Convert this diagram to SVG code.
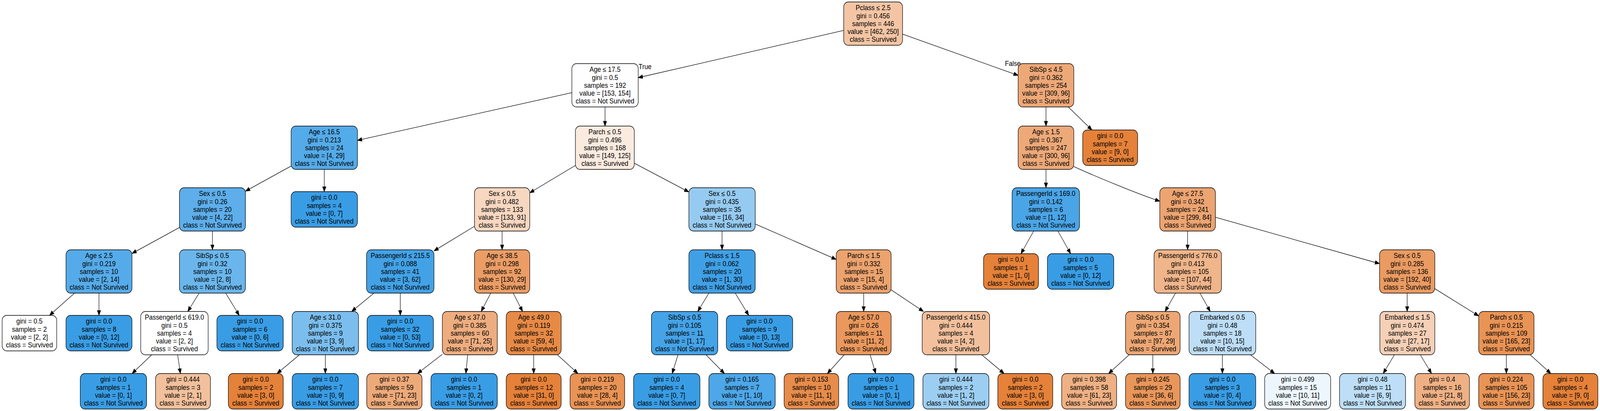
<svg xmlns="http://www.w3.org/2000/svg" width="4485" height="1053" viewBox="0 0 4485 1053" preserveAspectRatio="none">
<style>
svg:root{width:100vw;height:100vh;display:block}
.nd rect{stroke:#000;stroke-width:1.3}
text{font-family:"Liberation Sans",Arial,Helvetica,sans-serif;font-size:18px;fill:#000}
.nd text{text-anchor:middle}
.ed line,.ed path{stroke:#000;stroke-width:1.3;fill:none;marker-end:url(#ah)}
</style>
<defs>
<marker id="ah" markerUnits="userSpaceOnUse" markerWidth="14" markerHeight="11" refX="13" refY="5" orient="auto">
<path d="M0,0 L13,5 L0,10 z" fill="#000" stroke="#000" stroke-width="1"/>
</marker>
</defs>
<rect width="4485" height="1053" fill="#fff"/>
<g id="edges" class="ed">
<line x1="2365" y1="77.9" x2="1789" y2="199"/>
<line x1="2530" y1="87.4" x2="2854" y2="193.1"/>
<line x1="1603" y1="237.4" x2="1002" y2="359.6"/>
<line x1="1696" y1="274" x2="1696" y2="323"/>
<line x1="2932" y1="274" x2="2932" y2="323"/>
<line x1="2994.4" y1="274" x2="3060.8" y2="333"/>
<line x1="816" y1="425.4" x2="688" y2="489.9"/>
<line x1="909" y1="434" x2="909" y2="491"/>
<line x1="1613" y1="423.8" x2="1485" y2="494"/>
<line x1="1778" y1="418.2" x2="1931" y2="491.8"/>
<line x1="2932" y1="434" x2="2932" y2="481"/>
<path d="M3010,426.6 C3070,452 3190,497 3251,515.5"/>
<line x1="503" y1="582.8" x2="370" y2="649.3"/>
<line x1="595.5" y1="592" x2="595.5" y2="640"/>
<line x1="1330" y1="579.7" x2="1216.5" y2="642.9"/>
<line x1="1407.5" y1="592" x2="1407.5" y2="640"/>
<line x1="2024" y1="592" x2="2024" y2="640"/>
<line x1="2117" y1="573.8" x2="2344" y2="664.7"/>
<line x1="2897.5" y1="592" x2="2861.9" y2="650"/>
<line x1="2965.5" y1="592" x2="3001.1" y2="650"/>
<line x1="3329" y1="592" x2="3329" y2="640"/>
<line x1="3407" y1="556.7" x2="3867" y2="675.5"/>
<line x1="209" y1="751" x2="138.7" y2="808"/>
<line x1="277.5" y1="751" x2="277.5" y2="808"/>
<line x1="558.1" y1="751" x2="526.4" y2="798"/>
<line x1="632.6" y1="751" x2="670.6" y2="808"/>
<line x1="1048.2" y1="751" x2="985.8" y2="798"/>
<line x1="1122" y1="751" x2="1122" y2="808"/>
<line x1="1375.7" y1="751" x2="1348.8" y2="798"/>
<line x1="1438.6" y1="751" x2="1464.9" y2="798"/>
<line x1="1987.1" y1="751" x2="1955.9" y2="798"/>
<line x1="2060.9" y1="751" x2="2098.8" y2="808"/>
<line x1="2421" y1="751" x2="2421" y2="798"/>
<line x1="2498" y1="742.6" x2="2588.7" y2="798"/>
<line x1="3295.1" y1="751" x2="3265.9" y2="798"/>
<line x1="3363.6" y1="751" x2="3392.4" y2="798"/>
<line x1="3944.5" y1="751" x2="3944.5" y2="798"/>
<line x1="4022" y1="739.6" x2="4145" y2="809.5"/>
<line x1="425.3" y1="909" x2="370.2" y2="957"/>
<line x1="497.9" y1="909" x2="505.7" y2="957"/>
<line x1="839.4" y1="909" x2="776.6" y2="957"/>
<line x1="912" y1="909" x2="912" y2="957"/>
<line x1="1240" y1="907.8" x2="1170.1" y2="957"/>
<line x1="1311" y1="909" x2="1305.9" y2="957"/>
<line x1="1496" y1="909" x2="1496" y2="957"/>
<line x1="1562.5" y1="909" x2="1620" y2="957"/>
<line x1="1900.4" y1="909" x2="1884.3" y2="957"/>
<line x1="1979" y1="909" x2="2030.8" y2="957"/>
<line x1="2366.4" y1="909" x2="2319.2" y2="957"/>
<line x1="2439.1" y1="909" x2="2454.7" y2="957"/>
<line x1="2679.5" y1="909" x2="2679.5" y2="957"/>
<line x1="2752" y1="909" x2="2814.6" y2="957"/>
<line x1="3165" y1="909" x2="3107.5" y2="957"/>
<line x1="3231.5" y1="909" x2="3231.5" y2="957"/>
<line x1="3426.5" y1="909" x2="3426.5" y2="957"/>
<line x1="3505.1" y1="909" x2="3573.1" y2="957"/>
<line x1="3908.7" y1="909" x2="3877.3" y2="957"/>
<line x1="3981.3" y1="909" x2="4012.7" y2="957"/>
<line x1="4222.5" y1="909" x2="4222.5" y2="957"/>
<line x1="4289.4" y1="909" x2="4347.2" y2="957"/>
<text x="1790" y="177">True</text>
<text x="2817" y="169">False</text>
</g>
<g id="n0" class="nd"><rect x="2365" y="5" width="165" height="111" rx="13" fill="#f3c5a4"/><text y="26.4"><tspan x="2447.5">Pclass ≤ 2.5</tspan><tspan x="2447.5" dy="20.2">gini = 0.456</tspan><tspan x="2447.5" dy="20.2">samples = 446</tspan><tspan x="2447.5" dy="20.2">value = [462, 250]</tspan><tspan x="2447.5" dy="20.2">class = Survived</tspan></text></g>
<g id="n1" class="nd"><rect x="1603" y="163" width="186" height="111" rx="13" fill="#fefeff"/><text y="184.4"><tspan x="1696">Age ≤ 17.5</tspan><tspan x="1696" dy="20.2">gini = 0.5</tspan><tspan x="1696" dy="20.2">samples = 192</tspan><tspan x="1696" dy="20.2">value = [153, 154]</tspan><tspan x="1696" dy="20.2">class = Not Survived</tspan></text></g>
<g id="n2" class="nd"><rect x="2854" y="163" width="156" height="111" rx="13" fill="#eda877"/><text y="184.4"><tspan x="2932">SibSp ≤ 4.5</tspan><tspan x="2932" dy="20.2">gini = 0.362</tspan><tspan x="2932" dy="20.2">samples = 254</tspan><tspan x="2932" dy="20.2">value = [309, 96]</tspan><tspan x="2932" dy="20.2">class = Survived</tspan></text></g>
<g id="n3" class="nd"><rect x="816" y="323" width="186" height="111" rx="13" fill="#54abe9"/><text y="344.4"><tspan x="909">Age ≤ 16.5</tspan><tspan x="909" dy="20.2">gini = 0.213</tspan><tspan x="909" dy="20.2">samples = 24</tspan><tspan x="909" dy="20.2">value = [4, 29]</tspan><tspan x="909" dy="20.2">class = Not Survived</tspan></text></g>
<g id="n4" class="nd"><rect x="1613" y="323" width="165" height="111" rx="13" fill="#fbebdf"/><text y="344.4"><tspan x="1695.5">Parch ≤ 0.5</tspan><tspan x="1695.5" dy="20.2">gini = 0.496</tspan><tspan x="1695.5" dy="20.2">samples = 168</tspan><tspan x="1695.5" dy="20.2">value = [149, 125]</tspan><tspan x="1695.5" dy="20.2">class = Survived</tspan></text></g>
<g id="n5" class="nd"><rect x="2854" y="323" width="156" height="111" rx="13" fill="#eda978"/><text y="344.4"><tspan x="2932">Age ≤ 1.5</tspan><tspan x="2932" dy="20.2">gini = 0.367</tspan><tspan x="2932" dy="20.2">samples = 247</tspan><tspan x="2932" dy="20.2">value = [300, 96]</tspan><tspan x="2932" dy="20.2">class = Survived</tspan></text></g>
<g id="n6" class="nd"><rect x="3035" y="333" width="154" height="91" rx="13" fill="#e58139"/><text y="354.5"><tspan x="3112">gini = 0.0</tspan><tspan x="3112" dy="20.2">samples = 7</tspan><tspan x="3112" dy="20.2">value = [9, 0]</tspan><tspan x="3112" dy="20.2">class = Survived</tspan></text></g>
<g id="n7" class="nd"><rect x="503" y="481" width="185" height="111" rx="13" fill="#5daeea"/><text y="502.4"><tspan x="595.5">Sex ≤ 0.5</tspan><tspan x="595.5" dy="20.2">gini = 0.26</tspan><tspan x="595.5" dy="20.2">samples = 20</tspan><tspan x="595.5" dy="20.2">value = [4, 22]</tspan><tspan x="595.5" dy="20.2">class = Not Survived</tspan></text></g>
<g id="n8" class="nd"><rect x="816" y="491" width="186" height="91" rx="13" fill="#399de5"/><text y="512.5"><tspan x="909">gini = 0.0</tspan><tspan x="909" dy="20.2">samples = 4</tspan><tspan x="909" dy="20.2">value = [0, 7]</tspan><tspan x="909" dy="20.2">class = Not Survived</tspan></text></g>
<g id="n9" class="nd"><rect x="1330" y="481" width="155" height="111" rx="13" fill="#f7d7c0"/><text y="502.4"><tspan x="1407.5">Sex ≤ 0.5</tspan><tspan x="1407.5" dy="20.2">gini = 0.482</tspan><tspan x="1407.5" dy="20.2">samples = 133</tspan><tspan x="1407.5" dy="20.2">value = [133, 91]</tspan><tspan x="1407.5" dy="20.2">class = Survived</tspan></text></g>
<g id="n10" class="nd"><rect x="1931" y="481" width="186" height="111" rx="13" fill="#96cbf1"/><text y="502.4"><tspan x="2024">Sex ≤ 0.5</tspan><tspan x="2024" dy="20.2">gini = 0.435</tspan><tspan x="2024" dy="20.2">samples = 35</tspan><tspan x="2024" dy="20.2">value = [16, 34]</tspan><tspan x="2024" dy="20.2">class = Not Survived</tspan></text></g>
<g id="n11" class="nd"><rect x="2837" y="481" width="189" height="111" rx="13" fill="#4aa5e7"/><text y="502.4"><tspan x="2931.5">PassengerId ≤ 169.0</tspan><tspan x="2931.5" dy="20.2">gini = 0.142</tspan><tspan x="2931.5" dy="20.2">samples = 6</tspan><tspan x="2931.5" dy="20.2">value = [1, 12]</tspan><tspan x="2931.5" dy="20.2">class = Not Survived</tspan></text></g>
<g id="n12" class="nd"><rect x="3251" y="481" width="156" height="111" rx="13" fill="#eca471"/><text y="502.4"><tspan x="3329">Age ≤ 27.5</tspan><tspan x="3329" dy="20.2">gini = 0.342</tspan><tspan x="3329" dy="20.2">samples = 241</tspan><tspan x="3329" dy="20.2">value = [299, 84]</tspan><tspan x="3329" dy="20.2">class = Survived</tspan></text></g>
<g id="n13" class="nd"><rect x="185" y="640" width="185" height="111" rx="13" fill="#55abe9"/><text y="661.4"><tspan x="277.5">Age ≤ 2.5</tspan><tspan x="277.5" dy="20.2">gini = 0.219</tspan><tspan x="277.5" dy="20.2">samples = 10</tspan><tspan x="277.5" dy="20.2">value = [2, 14]</tspan><tspan x="277.5" dy="20.2">class = Not Survived</tspan></text></g>
<g id="n14" class="nd"><rect x="503" y="640" width="185" height="111" rx="13" fill="#6ab6ec"/><text y="661.4"><tspan x="595.5">SibSp ≤ 0.5</tspan><tspan x="595.5" dy="20.2">gini = 0.32</tspan><tspan x="595.5" dy="20.2">samples = 10</tspan><tspan x="595.5" dy="20.2">value = [2, 8]</tspan><tspan x="595.5" dy="20.2">class = Not Survived</tspan></text></g>
<g id="n15" class="nd"><rect x="1027.5" y="640" width="189" height="111" rx="13" fill="#43a2e6"/><text y="661.4"><tspan x="1122">PassengerId ≤ 215.5</tspan><tspan x="1122" dy="20.2">gini = 0.088</tspan><tspan x="1122" dy="20.2">samples = 41</tspan><tspan x="1122" dy="20.2">value = [3, 62]</tspan><tspan x="1122" dy="20.2">class = Not Survived</tspan></text></g>
<g id="n16" class="nd"><rect x="1330" y="640" width="155" height="111" rx="13" fill="#eb9d65"/><text y="661.4"><tspan x="1407.5">Age ≤ 38.5</tspan><tspan x="1407.5" dy="20.2">gini = 0.298</tspan><tspan x="1407.5" dy="20.2">samples = 92</tspan><tspan x="1407.5" dy="20.2">value = [130, 29]</tspan><tspan x="1407.5" dy="20.2">class = Survived</tspan></text></g>
<g id="n17" class="nd"><rect x="1931" y="640" width="186" height="111" rx="13" fill="#40a0e6"/><text y="661.4"><tspan x="2024">Pclass ≤ 1.5</tspan><tspan x="2024" dy="20.2">gini = 0.062</tspan><tspan x="2024" dy="20.2">samples = 20</tspan><tspan x="2024" dy="20.2">value = [1, 30]</tspan><tspan x="2024" dy="20.2">class = Not Survived</tspan></text></g>
<g id="n18" class="nd"><rect x="2344" y="640" width="154" height="111" rx="13" fill="#eca36e"/><text y="661.4"><tspan x="2421">Parch ≤ 1.5</tspan><tspan x="2421" dy="20.2">gini = 0.332</tspan><tspan x="2421" dy="20.2">samples = 15</tspan><tspan x="2421" dy="20.2">value = [15, 4]</tspan><tspan x="2421" dy="20.2">class = Survived</tspan></text></g>
<g id="n19" class="nd"><rect x="2757" y="650" width="154" height="91" rx="13" fill="#e58139"/><text y="671.5"><tspan x="2834">gini = 0.0</tspan><tspan x="2834" dy="20.2">samples = 1</tspan><tspan x="2834" dy="20.2">value = [1, 0]</tspan><tspan x="2834" dy="20.2">class = Survived</tspan></text></g>
<g id="n20" class="nd"><rect x="2936" y="650" width="186" height="91" rx="13" fill="#399de5"/><text y="671.5"><tspan x="3029">gini = 0.0</tspan><tspan x="3029" dy="20.2">samples = 5</tspan><tspan x="3029" dy="20.2">value = [0, 12]</tspan><tspan x="3029" dy="20.2">class = Not Survived</tspan></text></g>
<g id="n21" class="nd"><rect x="3235" y="640" width="189" height="111" rx="13" fill="#f0b58a"/><text y="661.4"><tspan x="3329.5">PassengerId ≤ 776.0</tspan><tspan x="3329.5" dy="20.2">gini = 0.413</tspan><tspan x="3329.5" dy="20.2">samples = 105</tspan><tspan x="3329.5" dy="20.2">value = [107, 44]</tspan><tspan x="3329.5" dy="20.2">class = Survived</tspan></text></g>
<g id="n22" class="nd"><rect x="3867" y="640" width="155" height="111" rx="13" fill="#ea9b62"/><text y="661.4"><tspan x="3944.5">Sex ≤ 0.5</tspan><tspan x="3944.5" dy="20.2">gini = 0.285</tspan><tspan x="3944.5" dy="20.2">samples = 136</tspan><tspan x="3944.5" dy="20.2">value = [192, 40]</tspan><tspan x="3944.5" dy="20.2">class = Survived</tspan></text></g>
<g id="n23" class="nd"><rect x="6" y="808" width="153" height="91" rx="13" fill="#ffffff"/><text y="829.5"><tspan x="82.5">gini = 0.5</tspan><tspan x="82.5" dy="20.2">samples = 2</tspan><tspan x="82.5" dy="20.2">value = [2, 2]</tspan><tspan x="82.5" dy="20.2">class = Survived</tspan></text></g>
<g id="n24" class="nd"><rect x="185" y="808" width="185" height="91" rx="13" fill="#399de5"/><text y="829.5"><tspan x="277.5">gini = 0.0</tspan><tspan x="277.5" dy="20.2">samples = 8</tspan><tspan x="277.5" dy="20.2">value = [0, 12]</tspan><tspan x="277.5" dy="20.2">class = Not Survived</tspan></text></g>
<g id="n25" class="nd"><rect x="394.5" y="798" width="189" height="111" rx="13" fill="#ffffff"/><text y="819.4"><tspan x="489">PassengerId ≤ 619.0</tspan><tspan x="489" dy="20.2">gini = 0.5</tspan><tspan x="489" dy="20.2">samples = 4</tspan><tspan x="489" dy="20.2">value = [2, 2]</tspan><tspan x="489" dy="20.2">class = Survived</tspan></text></g>
<g id="n26" class="nd"><rect x="608" y="808" width="186" height="91" rx="13" fill="#399de5"/><text y="829.5"><tspan x="701">gini = 0.0</tspan><tspan x="701" dy="20.2">samples = 6</tspan><tspan x="701" dy="20.2">value = [0, 6]</tspan><tspan x="701" dy="20.2">class = Not Survived</tspan></text></g>
<g id="n27" class="nd"><rect x="819" y="798" width="186" height="111" rx="13" fill="#7bbeee"/><text y="819.4"><tspan x="912">Age ≤ 31.0</tspan><tspan x="912" dy="20.2">gini = 0.375</tspan><tspan x="912" dy="20.2">samples = 9</tspan><tspan x="912" dy="20.2">value = [3, 9]</tspan><tspan x="912" dy="20.2">class = Not Survived</tspan></text></g>
<g id="n28" class="nd"><rect x="1029" y="808" width="186" height="91" rx="13" fill="#399de5"/><text y="829.5"><tspan x="1122">gini = 0.0</tspan><tspan x="1122" dy="20.2">samples = 32</tspan><tspan x="1122" dy="20.2">value = [0, 53]</tspan><tspan x="1122" dy="20.2">class = Not Survived</tspan></text></g>
<g id="n29" class="nd"><rect x="1240" y="798" width="154" height="111" rx="13" fill="#eead7f"/><text y="819.4"><tspan x="1317">Age ≤ 37.0</tspan><tspan x="1317" dy="20.2">gini = 0.385</tspan><tspan x="1317" dy="20.2">samples = 60</tspan><tspan x="1317" dy="20.2">value = [71, 25]</tspan><tspan x="1317" dy="20.2">class = Survived</tspan></text></g>
<g id="n30" class="nd"><rect x="1419" y="798" width="154" height="111" rx="13" fill="#e78a46"/><text y="819.4"><tspan x="1496">Age ≤ 49.0</tspan><tspan x="1496" dy="20.2">gini = 0.119</tspan><tspan x="1496" dy="20.2">samples = 32</tspan><tspan x="1496" dy="20.2">value = [59, 4]</tspan><tspan x="1496" dy="20.2">class = Survived</tspan></text></g>
<g id="n31" class="nd"><rect x="1826" y="798" width="186" height="111" rx="13" fill="#45a3e7"/><text y="819.4"><tspan x="1919">SibSp ≤ 0.5</tspan><tspan x="1919" dy="20.2">gini = 0.105</tspan><tspan x="1919" dy="20.2">samples = 11</tspan><tspan x="1919" dy="20.2">value = [1, 17]</tspan><tspan x="1919" dy="20.2">class = Not Survived</tspan></text></g>
<g id="n32" class="nd"><rect x="2036" y="808" width="186" height="91" rx="13" fill="#399de5"/><text y="829.5"><tspan x="2129">gini = 0.0</tspan><tspan x="2129" dy="20.2">samples = 9</tspan><tspan x="2129" dy="20.2">value = [0, 13]</tspan><tspan x="2129" dy="20.2">class = Not Survived</tspan></text></g>
<g id="n33" class="nd"><rect x="2344" y="798" width="154" height="111" rx="13" fill="#ea985d"/><text y="819.4"><tspan x="2421">Age ≤ 57.0</tspan><tspan x="2421" dy="20.2">gini = 0.26</tspan><tspan x="2421" dy="20.2">samples = 11</tspan><tspan x="2421" dy="20.2">value = [11, 2]</tspan><tspan x="2421" dy="20.2">class = Survived</tspan></text></g>
<g id="n34" class="nd"><rect x="2585" y="798" width="189" height="111" rx="13" fill="#f2c09c"/><text y="819.4"><tspan x="2679.5">PassengerId ≤ 415.0</tspan><tspan x="2679.5" dy="20.2">gini = 0.444</tspan><tspan x="2679.5" dy="20.2">samples = 4</tspan><tspan x="2679.5" dy="20.2">value = [4, 2]</tspan><tspan x="2679.5" dy="20.2">class = Survived</tspan></text></g>
<g id="n35" class="nd"><rect x="3155" y="798" width="153" height="111" rx="13" fill="#eda774"/><text y="819.4"><tspan x="3231.5">SibSp ≤ 0.5</tspan><tspan x="3231.5" dy="20.2">gini = 0.354</tspan><tspan x="3231.5" dy="20.2">samples = 87</tspan><tspan x="3231.5" dy="20.2">value = [97, 29]</tspan><tspan x="3231.5" dy="20.2">class = Survived</tspan></text></g>
<g id="n36" class="nd"><rect x="3333" y="798" width="187" height="111" rx="13" fill="#bddef6"/><text y="819.4"><tspan x="3426.5">Embarked ≤ 0.5</tspan><tspan x="3426.5" dy="20.2">gini = 0.48</tspan><tspan x="3426.5" dy="20.2">samples = 18</tspan><tspan x="3426.5" dy="20.2">value = [10, 15]</tspan><tspan x="3426.5" dy="20.2">class = Not Survived</tspan></text></g>
<g id="n37" class="nd"><rect x="3868" y="798" width="154" height="111" rx="13" fill="#f5d0b6"/><text y="819.4"><tspan x="3945">Embarked ≤ 1.5</tspan><tspan x="3945" dy="20.2">gini = 0.474</tspan><tspan x="3945" dy="20.2">samples = 27</tspan><tspan x="3945" dy="20.2">value = [27, 17]</tspan><tspan x="3945" dy="20.2">class = Survived</tspan></text></g>
<g id="n38" class="nd"><rect x="4145" y="798" width="155" height="111" rx="13" fill="#e99355"/><text y="819.4"><tspan x="4222.5">Parch ≤ 0.5</tspan><tspan x="4222.5" dy="20.2">gini = 0.215</tspan><tspan x="4222.5" dy="20.2">samples = 109</tspan><tspan x="4222.5" dy="20.2">value = [165, 23]</tspan><tspan x="4222.5" dy="20.2">class = Survived</tspan></text></g>
<g id="n39" class="nd"><rect x="225" y="957" width="186" height="91" rx="13" fill="#399de5"/><text y="978.5"><tspan x="318">gini = 0.0</tspan><tspan x="318" dy="20.2">samples = 1</tspan><tspan x="318" dy="20.2">value = [0, 1]</tspan><tspan x="318" dy="20.2">class = Not Survived</tspan></text></g>
<g id="n40" class="nd"><rect x="436" y="957" width="154" height="91" rx="13" fill="#f2c09c"/><text y="978.5"><tspan x="513">gini = 0.444</tspan><tspan x="513" dy="20.2">samples = 3</tspan><tspan x="513" dy="20.2">value = [2, 1]</tspan><tspan x="513" dy="20.2">class = Survived</tspan></text></g>
<g id="n41" class="nd"><rect x="640" y="957" width="154" height="91" rx="13" fill="#e58139"/><text y="978.5"><tspan x="717">gini = 0.0</tspan><tspan x="717" dy="20.2">samples = 2</tspan><tspan x="717" dy="20.2">value = [3, 0]</tspan><tspan x="717" dy="20.2">class = Survived</tspan></text></g>
<g id="n42" class="nd"><rect x="819" y="957" width="186" height="91" rx="13" fill="#399de5"/><text y="978.5"><tspan x="912">gini = 0.0</tspan><tspan x="912" dy="20.2">samples = 7</tspan><tspan x="912" dy="20.2">value = [0, 9]</tspan><tspan x="912" dy="20.2">class = Not Survived</tspan></text></g>
<g id="n43" class="nd"><rect x="1028" y="957" width="155" height="91" rx="13" fill="#edaa79"/><text y="978.5"><tspan x="1105.5">gini = 0.37</tspan><tspan x="1105.5" dy="20.2">samples = 59</tspan><tspan x="1105.5" dy="20.2">value = [71, 23]</tspan><tspan x="1105.5" dy="20.2">class = Survived</tspan></text></g>
<g id="n44" class="nd"><rect x="1208" y="957" width="186" height="91" rx="13" fill="#399de5"/><text y="978.5"><tspan x="1301">gini = 0.0</tspan><tspan x="1301" dy="20.2">samples = 1</tspan><tspan x="1301" dy="20.2">value = [0, 2]</tspan><tspan x="1301" dy="20.2">class = Not Survived</tspan></text></g>
<g id="n45" class="nd"><rect x="1419" y="957" width="154" height="91" rx="13" fill="#e58139"/><text y="978.5"><tspan x="1496">gini = 0.0</tspan><tspan x="1496" dy="20.2">samples = 12</tspan><tspan x="1496" dy="20.2">value = [31, 0]</tspan><tspan x="1496" dy="20.2">class = Survived</tspan></text></g>
<g id="n46" class="nd"><rect x="1598" y="957" width="153" height="91" rx="13" fill="#e99355"/><text y="978.5"><tspan x="1674.5">gini = 0.219</tspan><tspan x="1674.5" dy="20.2">samples = 20</tspan><tspan x="1674.5" dy="20.2">value = [28, 4]</tspan><tspan x="1674.5" dy="20.2">class = Survived</tspan></text></g>
<g id="n47" class="nd"><rect x="1776" y="957" width="186" height="91" rx="13" fill="#399de5"/><text y="978.5"><tspan x="1869">gini = 0.0</tspan><tspan x="1869" dy="20.2">samples = 4</tspan><tspan x="1869" dy="20.2">value = [0, 7]</tspan><tspan x="1869" dy="20.2">class = Not Survived</tspan></text></g>
<g id="n48" class="nd"><rect x="1987" y="957" width="186" height="91" rx="13" fill="#4da7e8"/><text y="978.5"><tspan x="2080">gini = 0.165</tspan><tspan x="2080" dy="20.2">samples = 7</tspan><tspan x="2080" dy="20.2">value = [1, 10]</tspan><tspan x="2080" dy="20.2">class = Not Survived</tspan></text></g>
<g id="n49" class="nd"><rect x="2198" y="957" width="153" height="91" rx="13" fill="#e78c4b"/><text y="978.5"><tspan x="2274.5">gini = 0.153</tspan><tspan x="2274.5" dy="20.2">samples = 10</tspan><tspan x="2274.5" dy="20.2">value = [11, 1]</tspan><tspan x="2274.5" dy="20.2">class = Survived</tspan></text></g>
<g id="n50" class="nd"><rect x="2377" y="957" width="185" height="91" rx="13" fill="#399de5"/><text y="978.5"><tspan x="2469.5">gini = 0.0</tspan><tspan x="2469.5" dy="20.2">samples = 1</tspan><tspan x="2469.5" dy="20.2">value = [0, 1]</tspan><tspan x="2469.5" dy="20.2">class = Not Survived</tspan></text></g>
<g id="n51" class="nd"><rect x="2587" y="957" width="185" height="91" rx="13" fill="#9ccef2"/><text y="978.5"><tspan x="2679.5">gini = 0.444</tspan><tspan x="2679.5" dy="20.2">samples = 2</tspan><tspan x="2679.5" dy="20.2">value = [1, 2]</tspan><tspan x="2679.5" dy="20.2">class = Not Survived</tspan></text></g>
<g id="n52" class="nd"><rect x="2797" y="957" width="154" height="91" rx="13" fill="#e58139"/><text y="978.5"><tspan x="2874">gini = 0.0</tspan><tspan x="2874" dy="20.2">samples = 2</tspan><tspan x="2874" dy="20.2">value = [3, 0]</tspan><tspan x="2874" dy="20.2">class = Survived</tspan></text></g>
<g id="n53" class="nd"><rect x="2976" y="957" width="154" height="91" rx="13" fill="#efb184"/><text y="978.5"><tspan x="3053">gini = 0.398</tspan><tspan x="3053" dy="20.2">samples = 58</tspan><tspan x="3053" dy="20.2">value = [61, 23]</tspan><tspan x="3053" dy="20.2">class = Survived</tspan></text></g>
<g id="n54" class="nd"><rect x="3155" y="957" width="153" height="91" rx="13" fill="#e9965a"/><text y="978.5"><tspan x="3231.5">gini = 0.245</tspan><tspan x="3231.5" dy="20.2">samples = 29</tspan><tspan x="3231.5" dy="20.2">value = [36, 6]</tspan><tspan x="3231.5" dy="20.2">class = Survived</tspan></text></g>
<g id="n55" class="nd"><rect x="3333" y="957" width="187" height="91" rx="13" fill="#399de5"/><text y="978.5"><tspan x="3426.5">gini = 0.0</tspan><tspan x="3426.5" dy="20.2">samples = 3</tspan><tspan x="3426.5" dy="20.2">value = [0, 4]</tspan><tspan x="3426.5" dy="20.2">class = Not Survived</tspan></text></g>
<g id="n56" class="nd"><rect x="3545" y="957" width="185" height="91" rx="13" fill="#edf6fd"/><text y="978.5"><tspan x="3637.5">gini = 0.499</tspan><tspan x="3637.5" dy="20.2">samples = 15</tspan><tspan x="3637.5" dy="20.2">value = [10, 11]</tspan><tspan x="3637.5" dy="20.2">class = Not Survived</tspan></text></g>
<g id="n57" class="nd"><rect x="3755" y="957" width="185" height="91" rx="13" fill="#bddef6"/><text y="978.5"><tspan x="3847.5">gini = 0.48</tspan><tspan x="3847.5" dy="20.2">samples = 11</tspan><tspan x="3847.5" dy="20.2">value = [6, 9]</tspan><tspan x="3847.5" dy="20.2">class = Not Survived</tspan></text></g>
<g id="n58" class="nd"><rect x="3966" y="957" width="153" height="91" rx="13" fill="#efb184"/><text y="978.5"><tspan x="4042.5">gini = 0.4</tspan><tspan x="4042.5" dy="20.2">samples = 16</tspan><tspan x="4042.5" dy="20.2">value = [21, 8]</tspan><tspan x="4042.5" dy="20.2">class = Survived</tspan></text></g>
<g id="n59" class="nd"><rect x="4145" y="957" width="155" height="91" rx="13" fill="#e99456"/><text y="978.5"><tspan x="4222.5">gini = 0.224</tspan><tspan x="4222.5" dy="20.2">samples = 105</tspan><tspan x="4222.5" dy="20.2">value = [156, 23]</tspan><tspan x="4222.5" dy="20.2">class = Survived</tspan></text></g>
<g id="n60" class="nd"><rect x="4325" y="957" width="154" height="91" rx="13" fill="#e58139"/><text y="978.5"><tspan x="4402">gini = 0.0</tspan><tspan x="4402" dy="20.2">samples = 4</tspan><tspan x="4402" dy="20.2">value = [9, 0]</tspan><tspan x="4402" dy="20.2">class = Survived</tspan></text></g>
</svg>
